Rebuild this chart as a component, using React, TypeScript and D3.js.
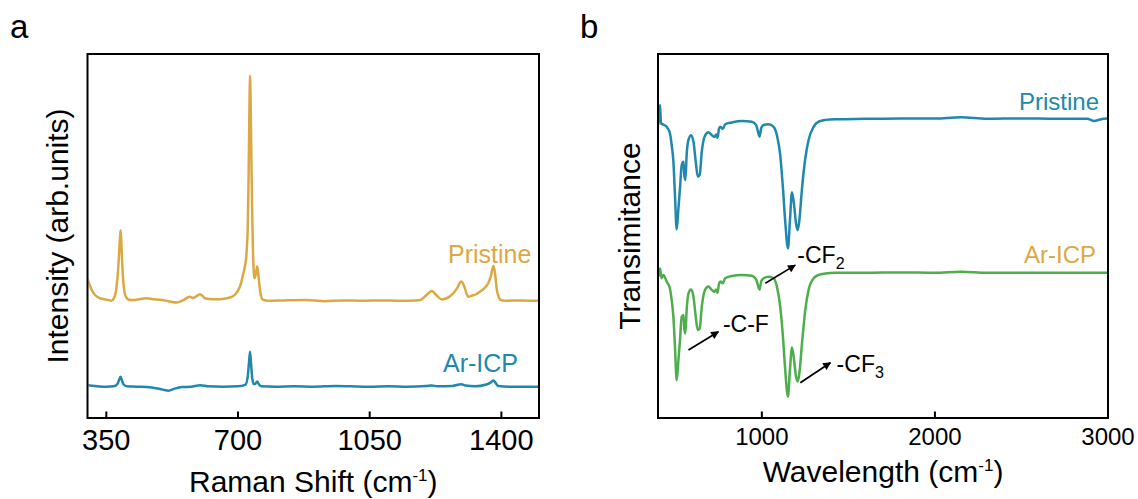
import React from "react";
import * as d3 from "d3";

// ---------- Data ----------
// Panel a: Raman spectra
const ramanPristineX = [300, 306, 311, 320, 333, 346, 356, 364, 370, 375, 380, 383, 386, 388, 390, 392, 396, 399, 404, 410, 422, 440, 457, 475, 493, 515, 537, 555, 572, 580, 586, 599, 606, 612, 634, 652, 670, 683, 693, 701, 708, 712, 717, 721, 724, 726, 728, 730, 732, 734, 736, 738, 740, 742, 743.5, 746, 749, 751, 753, 755, 758, 761, 765, 780, 820, 880, 930, 980, 1030, 1080, 1130, 1170, 1184, 1195, 1205, 1215, 1225, 1241, 1255, 1270, 1282, 1293, 1300, 1305, 1312, 1321, 1333, 1343, 1355, 1365, 1372, 1379, 1384, 1388, 1392, 1396, 1410, 1450, 1500];
const ramanPristineY = [38.2, 36.5, 35.2, 33.8, 32.9, 32.6, 32.4, 32.2, 32.9, 34.5, 39, 43.4, 49, 51.6, 48, 43, 36.5, 34.2, 33.0, 32.5, 32.4, 32.7, 32.9, 32.6, 32.5, 32.1, 31.7, 32.4, 33.3, 33.0, 33.2, 34.0, 33.5, 32.9, 32.6, 32.6, 32.9, 33.3, 34.0, 35.2, 37.0, 38.8, 41.0, 43.4, 47.5, 52.6, 65, 82, 94, 84, 68, 55, 45, 40.0, 38.4, 39.0, 40.5, 41.6, 40.5, 38.5, 35.5, 33.6, 32.6, 32.2, 32.3, 32.4, 32.1, 32.3, 32.2, 32.3, 32.2, 32.3, 32.4, 33.2, 34.2, 34.9, 34.0, 32.6, 32.9, 34.0, 35.6, 37.5, 36.5, 35.0, 33.3, 33.6, 34.0, 34.7, 35.7, 37.0, 39.0, 41.8, 39.0, 35.2, 33.5, 32.6, 32.2, 32.3, 32.2];

const ramanArX = [300, 320, 350, 370, 380, 385, 388, 391, 396, 405, 430, 470, 500, 515, 530, 550, 575, 600, 620, 660, 700, 720, 726, 729, 732, 735, 738, 742, 746, 751, 756, 762, 800, 850, 900, 960, 1000, 1050, 1100, 1150, 1200, 1215, 1230, 1270, 1293, 1305, 1330, 1360, 1372, 1379, 1385, 1392, 1420, 1500];
const ramanArY = [9.0, 8.8, 8.6, 8.7, 9.4, 10.8, 11.3, 10.5, 9.2, 8.7, 8.6, 8.4, 7.8, 7.5, 8.0, 8.5, 8.6, 9.0, 8.7, 8.6, 8.7, 9.2, 11.5, 15, 18.2, 14.5, 10.8, 9.3, 9.4, 10.0, 9.2, 8.7, 8.6, 8.7, 8.6, 8.8, 8.7, 8.6, 8.7, 8.6, 8.8, 8.95, 8.7, 8.8, 9.3, 8.9, 8.7, 9.2, 9.8, 10.3, 9.6, 8.8, 8.6, 8.6];

const ramanTicks = [350, 700, 1050, 1400];

// Panel b: FTIR spectra
const ftirPristineX = [400, 406, 412, 417, 431, 450, 469, 479, 489, 498, 508, 518, 527, 537, 547, 552, 558, 566, 576, 591, 605, 618, 630, 641, 653, 672, 691, 711, 726, 736, 744, 753, 761, 774, 788, 827, 884, 942, 967, 977, 987, 996, 1010, 1039, 1068, 1087, 1106, 1122, 1135, 1151, 1162, 1174, 1186, 1197, 1207, 1216, 1232, 1251, 1270, 1299, 1328, 1367, 1425, 1600, 1800, 2000, 2150, 2300, 2500, 2700, 2880, 2920, 2960, 3000];
const ftirPristineY = [80.5, 83, 86, 81, 80.6, 80.0, 78.2, 75.0, 70.4, 61.3, 51.8, 57.6, 63.1, 69.5, 70.4, 66.7, 65.4, 72.7, 76.4, 77.7, 75.9, 70.4, 66.3, 66.8, 73.2, 77.6, 78.5, 77.7, 77.2, 77.9, 77.0, 79.6, 80.0, 79.4, 80.7, 81.2, 81.6, 81.4, 80.5, 78.8, 77.3, 79.6, 80.5, 80.7, 80.0, 77.7, 72.3, 63.1, 54.0, 46.6, 54.0, 62.0, 58.6, 53.6, 51.6, 54.0, 63.1, 71.3, 76.4, 80.0, 81.4, 81.9, 82.1, 82.2, 82.3, 82.3, 82.6, 82.2, 82.3, 82.2, 82.2, 81.6, 82.1, 82.3];

const ftirArX = [400, 406, 412, 420, 431, 450, 469, 479, 489, 498, 508, 518, 527, 537, 547, 552, 558, 566, 576, 591, 605, 618, 630, 641, 653, 672, 691, 711, 726, 736, 744, 753, 761, 774, 788, 827, 884, 942, 967, 977, 987, 996, 1010, 1039, 1068, 1087, 1106, 1122, 1135, 1151, 1162, 1174, 1186, 1197, 1207, 1216, 1232, 1251, 1270, 1299, 1328, 1367, 1425, 1600, 1800, 2000, 2150, 2300, 2500, 2700, 3000];
const ftirArY = [38.8, 39.5, 41.1, 38.4, 39.3, 37.5, 35.6, 32.4, 27.8, 19.6, 10.4, 15.9, 21.4, 27.8, 28.3, 24.6, 23.2, 30.1, 34.2, 35.3, 33.3, 27.8, 24.2, 24.6, 30.6, 35.2, 36.1, 35.2, 34.7, 35.3, 34.4, 37.0, 37.5, 37.0, 38.4, 39.0, 39.3, 39.1, 38.1, 36.5, 35.3, 37.5, 38.4, 38.8, 38.4, 36.1, 30.6, 22.3, 13.2, 5.9, 13.0, 19.4, 16.0, 11.5, 10.0, 12.0, 20.5, 29.7, 35.2, 38.4, 39.3, 39.7, 39.9, 39.9, 40.0, 39.9, 40.2, 39.9, 39.9, 39.9, 39.9];

const ftirTicks = [1000, 2000, 3000];

// Annotations (data coordinates of panel b): [x1, y1, x2, y2]
const annoLabels = ["-CF", "-C-F", "-CF"];
const annoSubs = ["2", "", "3"];
const annoArrows = [
  [1020, 37.0, 1193, 42.0],
  [576, 18.7, 749, 23.7],
  [1222, 9.7, 1396, 15.2],
];
const annoText = [
  [1205, 42.6],
  [775, 23.7],
  [1432, 12.7],
];

// ---------- Styles ----------
const GOLD = "#DCA844";
const BLUE = "#2088AE";
const GREEN = "#4DAE4B";
const FONT = "'Liberation Sans', Arial, Helvetica, sans-serif";

const yTop = 54;
const yBot = 418;

function Frame({ x0, x1 }: { x0: number; x1: number }) {
  return <rect x={x0} y={yTop} width={x1 - x0} height={yBot - yTop} fill="none" stroke="#000" strokeWidth={2} />;
}

export default function App() {
  // Panel a scales
  const xa = d3.scaleLinear().domain([300, 1500]).range([87.5, 539]);
  const ya = d3.scaleLinear().domain([0, 100]).range([yBot, yTop]);
  // Panel b scales
  const xb = d3.scaleLinear().domain([400, 3000]).range([658, 1108]);
  const yb = d3.scaleLinear().domain([0, 100]).range([yBot, yTop]);

  const mk = (xs: number[], ys: number[], sx: any, sy: any) =>
    d3
      .line<number>()
      .x((d) => sx(d))
      .y((_, i) => sy(ys[i]))
      .curve(d3.curveMonotoneX)(xs) || "";

  return (
    <svg
      width={1138}
      height={499}
      style={{ position: "absolute", left: 0, top: 0, background: "#fff" }}
      fontFamily={FONT}
    >
      <defs>
        <clipPath id="clipA">
          <rect x={88.5} y={yTop + 1} width={539 - 88.5 - 1} height={yBot - yTop - 2} />
        </clipPath>
        <clipPath id="clipB">
          <rect x={659} y={yTop + 1} width={1108 - 659 - 1} height={yBot - yTop - 2} />
        </clipPath>
        <marker id="arrow" viewBox="0 0 10 10" refX="9" refY="5" markerWidth="11" markerHeight="8" markerUnits="userSpaceOnUse" orient="auto">
          <path d="M0,0 L10,5 L0,10 Z" fill="#000" />
        </marker>
      </defs>

      {/* Panel labels */}
      <text x={10} y={38} fontSize={33} fill="#000">a</text>
      <text x={580} y={38} fontSize={33} fill="#000">b</text>

      {/* ---------- Panel a ---------- */}
      <g clipPath="url(#clipA)">
        <path d={mk(ramanPristineX, ramanPristineY, xa, ya)} fill="none" stroke={GOLD} strokeWidth={2.5} strokeLinejoin="round" />
        <path d={mk(ramanArX, ramanArY, xa, ya)} fill="none" stroke={BLUE} strokeWidth={2.5} strokeLinejoin="round" />
      </g>
      <Frame x0={87.5} x1={539} />
      {ramanTicks.map((t) => (
        <g key={t}>
          <line x1={xa(t)} x2={xa(t)} y1={yBot} y2={yBot - 6.5} stroke="#000" strokeWidth={2} />
          <text x={xa(t)} y={450} fontSize={29} textAnchor="middle" fill="#000">{t}</text>
        </g>
      ))}
      <text x={xa(900)} y={492} fontSize={30} textAnchor="middle" fill="#000">
        Raman Shift (cm<tspan fontSize={17} dy={-11}>-1</tspan><tspan dy={11}>)</tspan>
      </text>
      <text transform={`translate(68,${(yTop + yBot) / 2}) rotate(-90)`} fontSize={30} textAnchor="middle" fill="#000">
        Intensity (arb.units)
      </text>
      <text x={448} y={263} fontSize={25} fill={GOLD}>Pristine</text>
      <text x={443} y={372} fontSize={25} fill={BLUE}>Ar-ICP</text>

      {/* ---------- Panel b ---------- */}
      <g clipPath="url(#clipB)">
        <path d={mk(ftirPristineX, ftirPristineY, xb, yb)} fill="none" stroke={BLUE} strokeWidth={2.5} strokeLinejoin="round" />
        <path d={mk(ftirArX, ftirArY, xb, yb)} fill="none" stroke={GREEN} strokeWidth={2.5} strokeLinejoin="round" />
      </g>
      <Frame x0={658} x1={1108} />
      {ftirTicks.map((t) => (
        <g key={t}>
          <line x1={xb(t)} x2={xb(t)} y1={yBot} y2={yBot - 6.5} stroke="#000" strokeWidth={2} />
          <text x={xb(t)} y={445} fontSize={24} textAnchor="middle" fill="#000">{t}</text>
        </g>
      ))}
      <text x={xb(1700)} y={482} fontSize={30} textAnchor="middle" fill="#000">
        Wavelength (cm<tspan fontSize={17} dy={-11}>-1</tspan><tspan dy={11}>)</tspan>
      </text>
      <text transform={`translate(639.5,${(yTop + yBot) / 2}) rotate(-90)`} fontSize={30} textAnchor="middle" fill="#000">
        Transimitance
      </text>
      <text x={1019} y={110} fontSize={24} fill={BLUE}>Pristine</text>
      <text x={1024} y={263} fontSize={24} fill={GOLD}>Ar-ICP</text>

      {annoArrows.map((a, i) => (
        <line key={"ar" + i} x1={xb(a[0])} y1={yb(a[1])} x2={xb(a[2])} y2={yb(a[3])} stroke="#000" strokeWidth={1.7} markerEnd="url(#arrow)" />
      ))}
      {annoText.map((p, i) => (
        <text key={"at" + i} x={xb(p[0])} y={yb(p[1])} fontSize={23} fill="#000">
          {annoLabels[i]}
          {annoSubs[i] ? <tspan fontSize={16} dy={6}>{annoSubs[i]}</tspan> : null}
        </text>
      ))}
    </svg>
  );
}
